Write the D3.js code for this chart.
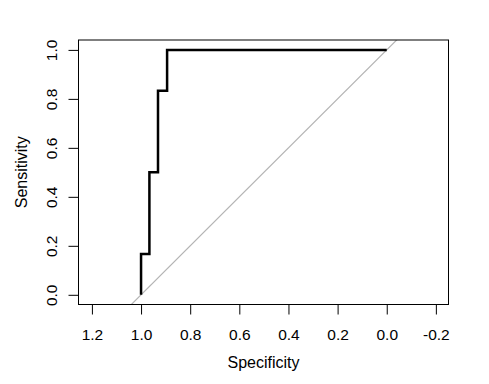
<!DOCTYPE html>
<html><head><meta charset="utf-8">
<script src="https://cdn.jsdelivr.net/npm/d3@7"></script>
<style>body{margin:0;background:#fff}svg{display:block}text{font-family:"Liberation Sans",Arial,sans-serif;}</style>
</head><body>
<script>
// ROC curve data (specificity, sensitivity)
const specificity = [1.0, 1.0, 0.966, 0.966, 0.931, 0.931, 0.894, 0.894, 0.0];
const sensitivity = [0.0, 0.1667, 0.1667, 0.5, 0.5, 0.8333, 0.8333, 1.0, 1.0];
const xTicks = [1.2, 1.0, 0.8, 0.6, 0.4, 0.2, 0.0, -0.2];
const yTicks = [0.0, 0.2, 0.4, 0.6, 0.8, 1.0];
const xLabel = "Specificity", yLabel = "Sensitivity";

const W = 489, H = 384;
const L = 78.5, R = 448.5, T = 40, B = 304.5;
const svg = d3.select("body").append("svg").attr("width", W).attr("height", H);
const x = d3.scaleLinear().domain([1.2546, -0.2514]).range([L, R]);
const y = d3.scaleLinear().domain([-0.0396, 1.0404]).range([B, T]);

svg.append("clipPath").attr("id","clip").append("rect")
  .attr("x", L).attr("y", T).attr("width", R - L).attr("height", B - T);

// diagonal reference line
const dx = x.domain();
svg.append("line").attr("clip-path","url(#clip)")
  .attr("x1", x(dx[0])).attr("y1", y(1 - dx[0]))
  .attr("x2", x(dx[1])).attr("y2", y(1 - dx[1]))
  .attr("stroke", "#b4b4b4").attr("stroke-width", 1.2);

// ROC line
const pts = specificity.map((s, i) => [s, sensitivity[i]]);
svg.append("path").datum(pts)
  .attr("d", d3.line().x(d => x(d[0])).y(d => y(d[1])))
  .attr("fill", "none").attr("stroke", "#000").attr("stroke-width", 2.5)
  .attr("stroke-linejoin", "miter").attr("stroke-linecap", "butt");

// box
svg.append("rect").attr("x", L).attr("y", T).attr("width", R - L).attr("height", B - T)
  .attr("fill", "none").attr("stroke", "#000").attr("stroke-width", 1);

// x axis
const xa = svg.append("g").attr("transform", `translate(0,${B})`)
  .call(d3.axisBottom(x).tickValues(xTicks).tickSize(10).tickFormat(d3.format(".1f")));
xa.select(".domain").attr("d", `M${x(xTicks[0])},0H${x(xTicks[xTicks.length-1])}`);
xa.selectAll(".tick text").attr("font-size", 15.5).attr("fill", "#000")
  .attr("y", 340 - B).attr("dy", null)
  .text(d => d3.format(".1f")(d).replace("−", "-"));
xa.selectAll("line").attr("stroke", "#000");

// y axis
const ya = svg.append("g").attr("transform", `translate(${L},0)`)
  .call(d3.axisLeft(y).tickValues(yTicks).tickSize(10).tickFormat(d3.format(".1f")));
ya.select(".domain").attr("d", `M0,${y(yTicks[0])}V${y(yTicks[yTicks.length-1])}`);
ya.selectAll(".tick text").attr("font-size", 15.5).attr("fill", "#000")
  .attr("x", null).attr("dy", null)
  .attr("transform", "translate(-21.5,0) rotate(-90)")
  .attr("text-anchor", "middle");

// axis titles
svg.append("text").attr("x", (L + R) / 2).attr("y", 367.5).attr("text-anchor", "middle")
  .attr("font-size", 16).text(xLabel);
svg.append("text").attr("transform", `translate(27,${(T + B) / 2}) rotate(-90)`)
  .attr("text-anchor", "middle").attr("font-size", 16).text(yLabel);
</script>
</body></html>
